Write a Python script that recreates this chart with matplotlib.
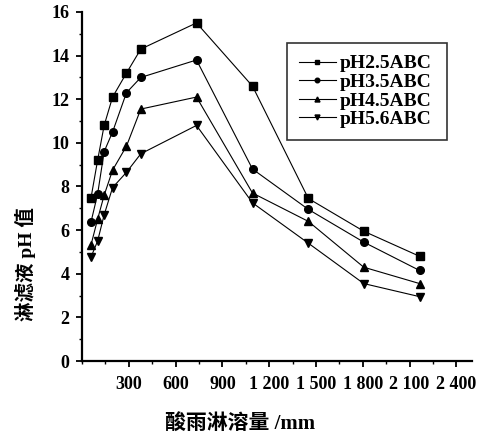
#!/usr/bin/env python3
"""
Leachate pH versus cumulative simulated acid rain for four ABC treatments.
"""

import matplotlib
matplotlib.use("Agg")
import matplotlib.pyplot as plt
from matplotlib.ticker import MultipleLocator

# Cumulative acid rain leaching amount (mm)
rain_mm = [57, 100, 142, 196, 285, 377, 734, 1093, 1451, 1806, 2164]

# Leachate pH for each acid rain treatment
ph25 = [7.45, 9.2, 10.8, 12.1, 13.2, 14.3, 15.5, 12.6, 7.45, 5.95, 4.8]
ph35 = [6.35, 7.65, 9.6, 10.5, 12.3, 13.0, 13.8, 8.8, 6.95, 5.45, 4.15]
ph45 = [5.3, 6.5, 7.6, 8.75, 9.85, 11.55, 12.1, 7.7, 6.4, 4.3, 3.55]
ph56 = [4.75, 5.5, 6.7, 7.95, 8.65, 9.5, 10.8, 7.25, 5.4, 3.55, 2.95]

series_labels = ["pH2.5ABC", "pH3.5ABC", "pH4.5ABC", "pH5.6ABC"]
series_markers = ["s", "o", "^", "v"]

xtick_values = [300, 600, 900, 1200, 1500, 1800, 2100, 2400]
xtick_labels = ["300", "600", "900", "1 200", "1 500", "1 800", "2 100", "2 400"]
ytick_values = [0, 2, 4, 6, 8, 10, 12, 14, 16]

SERIF = ["Liberation Serif", "Noto Sans CJK SC"]


def plot_leachate(out_file="out.png"):
    fig = plt.figure(figsize=(4.95, 4.4), dpi=100)
    ax = fig.add_axes([82 / 495, 1 - 361 / 440, 390 / 495, 349 / 440])

    for values, label, marker in zip([ph25, ph35, ph45, ph56], series_labels, series_markers):
        size = 6 if marker in ("^", "v") else 5.5
        ax.plot(rain_mm, values, color="black", lw=0.8, marker=marker,
                markersize=size, markerfacecolor="black", markeredgecolor="black",
                label=label)

    ax.set_xlim(0, 2500)
    ax.set_ylim(0, 16)

    ax.set_xticks(xtick_values)
    ax.set_xticklabels(xtick_labels)
    ax.xaxis.set_minor_locator(MultipleLocator(150))
    ax.set_yticks(ytick_values)
    ax.yaxis.set_minor_locator(MultipleLocator(1))

    for spine in ("top", "right"):
        ax.spines[spine].set_visible(False)
    for spine in ("left", "bottom"):
        ax.spines[spine].set_linewidth(1.6)

    ax.tick_params(which="major", direction="out", length=4, width=1.3, pad=5)
    ax.tick_params(which="minor", direction="out", length=2.5, width=1.0)
    ax.tick_params(axis="x", which="major", pad=7)
    for lbl in ax.get_xticklabels() + ax.get_yticklabels():
        lbl.set_fontfamily(SERIF)
        lbl.set_fontweight("bold")
        lbl.set_fontsize(13)

    ax.set_xlabel("酸雨淋溶量 /mm", family=SERIF, fontweight="bold", fontsize=15)
    ax.xaxis.set_label_coords(0.405, -0.15)
    ax.set_ylabel("淋滤液 pH 值", family=SERIF, fontweight="bold", fontsize=14)
    ax.yaxis.set_label_coords(-0.118, 0.278)

    leg = ax.legend(loc="upper left", bbox_to_anchor=(0.526, 0.642, 0.41, 0.269),
                    mode="expand", frameon=True, fancybox=False, edgecolor="black",
                    prop={"family": SERIF, "weight": "bold", "size": 14},
                    handlelength=1.9, handletextpad=0.2, labelspacing=0.05,
                    borderpad=0.6, borderaxespad=0, markerscale=0.6)
    leg.get_frame().set_linewidth(1.2)

    fig.savefig(out_file, dpi=100)
    print(f"Chart saved as '{out_file}'")


if __name__ == "__main__":
    plot_leachate()
